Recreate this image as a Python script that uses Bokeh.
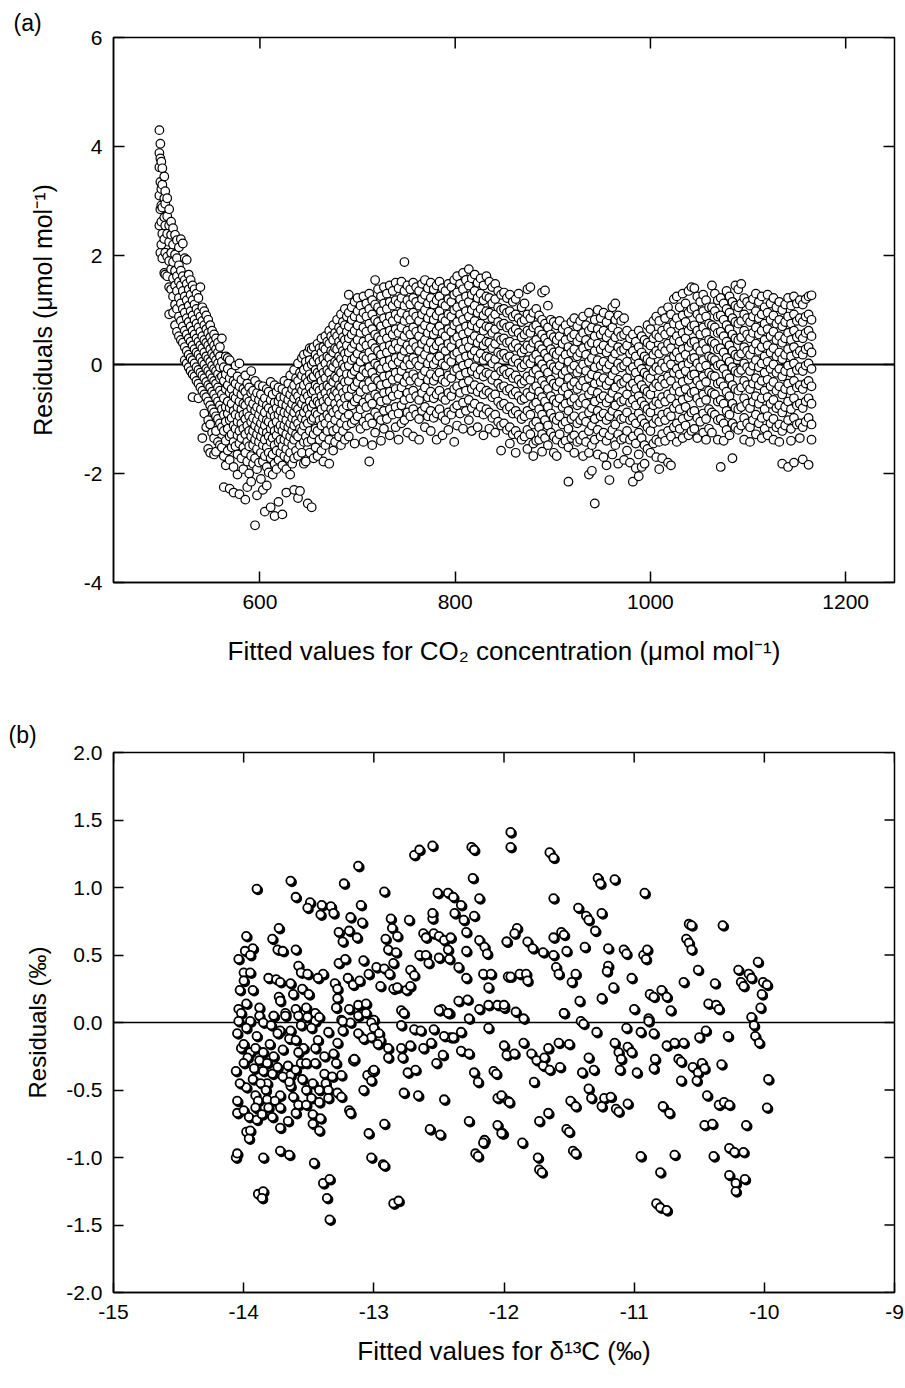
from bokeh.plotting import figure
from bokeh.layouts import column
from bokeh.models import FixedTicker, Span, ColumnDataSource, PrintfTickFormatter
from bokeh.transform import dodge
from bokeh.embed import file_html
from bokeh.resources import INLINE

# ---------------- Panel (a): residuals vs fitted CO2 ----------------
# each entry: "fitted x : residual values read at that x"
A_DECAY = [
    "497:4.30,3.88,3.62,3.10,2.55", "498:4.05,3.78,3.35,2.85,2.05",
    "499:3.72,3.22,2.92,2.62,2.20", "500:3.60,3.30,2.88,2.40,1.95",
    "502:3.45,3.05,2.70,2.30,1.68", "503:3.18,2.95,2.55,2.05,1.65",
    "505:3.05,2.72,2.40,1.98,1.62", "507:2.85,2.55,2.25,1.90,1.42,0.92",
    "509:2.62,2.38,2.05,1.75,1.38", "511:2.50,2.20,1.88,1.58,1.25,0.95",
    "513:2.38,2.02,1.72,1.45,1.10,0.72", "515:2.28,1.95,1.62,1.35,1.02,0.60",
    "517:2.15,1.82,1.52,1.22,0.88,0.52", "519:2.30,1.72,1.45,1.12,0.80,0.45",
    "521:2.22,1.62,1.35,1.02,0.70,0.40", "523:1.95,1.55,1.25,0.95,0.62,0.32,0.08",
    "525:1.92,1.48,1.18,0.85,0.55,0.25,0.02", "527:1.65,1.38,1.08,0.78,0.48,0.18,-0.05",
    "529:1.55,1.28,0.98,0.70,0.42,0.12,-0.12", "531:1.45,1.18,0.90,0.62,0.35,0.08,-0.18,-0.60",
    "533:1.38,1.10,0.82,0.55,0.28,0.02,-0.22", "535:1.30,1.02,0.75,0.48,0.22,-0.05,-0.30",
    "537:1.22,0.95,0.68,0.42,0.18,-0.10,-0.35,-0.62", "539:1.42,0.88,0.60,0.35,0.12,-0.15,-0.42",
    "541:1.05,0.80,0.52,0.30,0.05,-0.20,-0.48,-1.35", "543:0.98,0.72,0.45,0.22,0.00,-0.25,-0.55,-0.90",
    "545:0.90,0.65,0.40,0.15,-0.08,-0.32,-0.60,-1.15", "547:0.82,0.58,0.35,0.10,-0.12,-0.38,-0.68,-1.02,-1.55",
    "549:0.72,0.50,0.28,0.05,-0.18,-0.42,-0.75,-1.10,-1.62", "551:0.62,0.42,0.20,-0.02,-0.25,-0.50,-0.82,-1.25",
    "553:0.55,0.35,0.15,-0.08,-0.30,-0.55,-0.88,-1.35,-1.65", "555:0.48,0.28,0.08,-0.12,-0.35,-0.62,-0.95,-1.22,-1.60",
    "557:0.40,0.22,0.02,-0.18,-0.42,-0.68,-1.00,-1.42", "559:0.32,0.15,-0.05,-0.25,-0.48,-0.75,-1.08,-1.48",
]
A_TROUGH = [
    "561:0.48,0.05,-0.22,-0.55,-0.82,-1.15,-1.52", "563:-0.05,-0.30,-0.62,-0.92,-1.22,-1.68,-2.25",
    "565:0.15,-0.18,-0.45,-0.78,-1.05,-1.40,-1.85", "567:0.12,-0.08,-0.38,-0.68,-0.90,-1.18,-1.58",
    "569:0.08,-0.25,-0.52,-0.80,-1.02,-1.32,-1.75,-2.28", "571:-0.15,-0.45,-0.72,-0.98,-1.28,-1.52",
    "573:-0.30,-0.58,-0.85,-1.12,-1.42,-1.88,-2.35", "575:-0.02,-0.35,-0.62,-0.92,-1.18,-1.50",
    "577:-0.22,-0.50,-0.78,-1.05,-1.30,-1.65,-2.02", "579:0.02,-0.40,-0.68,-0.95,-1.22,-1.45,-2.38",
    "581:-0.28,-0.55,-0.82,-1.08,-1.35,-1.72", "583:-0.45,-0.72,-0.92,-1.18,-1.52,-1.92",
    "585:-0.20,-0.50,-0.75,-1.00,-1.28,-1.62,-2.48", "587:-0.35,-0.62,-0.88,-1.12,-1.42,-1.78,-2.25",
    "589:-0.42,-0.68,-0.95,-1.22,-1.50,-2.00", "591:-0.12,-0.52,-0.80,-1.05,-1.32,-1.68,-2.15",
    "593:-0.48,-0.72,-0.98,-1.22,-1.48,-1.82", "595:-0.30,-0.60,-0.85,-1.12,-1.38,-1.72,-2.95",
    "597:-0.52,-0.78,-1.02,-1.28,-1.55,-1.92,-2.40", "599:-0.38,-0.65,-0.92,-1.18,-1.42,-1.80",
    "601:-0.55,-0.82,-1.08,-1.32,-1.62,-2.10", "603:-0.40,-0.70,-0.98,-1.22,-1.48,-1.78,-2.30",
    "605:-0.62,-0.88,-1.12,-1.38,-1.68,-2.70", "607:-0.45,-0.75,-1.02,-1.25,-1.52,-1.88,-2.22",
    "609:-0.50,-0.80,-1.05,-1.32,-1.62,-1.98", "611:-0.32,-0.65,-0.92,-1.18,-1.42,-1.72,-2.62",
    "613:-0.55,-0.85,-1.10,-1.35,-1.65,-2.02", "615:-0.38,-0.70,-0.95,-1.22,-1.48,-1.82,-2.78",
    "617:-0.50,-0.80,-1.05,-1.30,-1.58,-1.92", "619:-0.42,-0.68,-0.92,-1.18,-1.42,-1.75,-2.52",
    "621:-0.60,-0.85,-1.12,-1.38,-1.62", "623:-0.45,-0.72,-0.98,-1.22,-1.50,-1.85,-2.75",
    "625:-0.30,-0.60,-0.88,-1.12,-1.38,-1.68", "627:-0.50,-0.75,-1.02,-1.28,-1.55,-1.92,-2.35",
    "629:-0.35,-0.65,-0.90,-1.15,-1.42,-1.72", "631:-0.20,-0.55,-0.82,-1.08,-1.32,-1.62,-2.02",
    "633:-0.45,-0.72,-0.98,-1.22,-1.48,-1.82", "635:-0.10,-0.38,-0.62,-0.88,-1.12,-1.38,-1.72,-2.30",
    "637:-0.25,-0.52,-0.78,-1.02,-1.28,-1.58", "639:0.02,-0.30,-0.58,-0.82,-1.08,-1.32,-1.68,-2.45",
    "641:-0.15,-0.42,-0.68,-0.92,-1.18,-1.48,-2.32", "643:0.12,-0.20,-0.48,-0.72,-0.98,-1.22,-1.62",
    "645:0.18,-0.10,-0.38,-0.62,-0.88,-1.12,-1.42,-1.82", "647:0.05,-0.25,-0.52,-0.78,-1.02,-1.32,-1.78",
    "649:0.22,-0.05,-0.32,-0.58,-0.82,-1.08,-1.42,-2.55", "651:0.30,0.08,-0.18,-0.42,-0.68,-0.92,-1.22,-1.62",
    "653:0.28,0.00,-0.25,-0.52,-0.78,-1.02,-1.38,-2.62", "655:0.32,0.05,-0.22,-0.48,-0.72,-0.98,-1.28,-1.72",
    "657:0.18,-0.10,-0.38,-0.62,-0.88,-1.18,-1.52", "659:0.38,0.12,-0.15,-0.42,-0.68,-0.92,-1.22,-1.68",
    "661:0.30,0.05,-0.20,-0.48,-0.72,-1.02,-1.38", "663:0.48,0.22,-0.05,-0.30,-0.58,-0.82,-1.12,-1.58",
    "665:0.32,0.10,-0.15,-0.42,-0.68,-0.98,-1.32,-1.78", "667:0.52,0.28,0.02,-0.25,-0.52,-0.78,-1.08,-1.48",
    "669:0.42,0.15,-0.10,-0.38,-0.62,-0.92,-1.22", "671:0.62,0.38,0.12,-0.15,-0.42,-0.68,-0.98,-1.38,-1.82",
    "673:0.52,0.25,0.00,-0.28,-0.52,-0.82,-1.12", "675:0.72,0.45,0.22,-0.05,-0.32,-0.58,-0.88,-1.22,-1.58",
    "677:0.58,0.30,0.05,-0.22,-0.48,-0.72,-1.02,-1.42", "679:0.82,0.52,0.28,0.02,-0.25,-0.52,-0.82,-1.18",
    "681:0.68,0.42,0.15,-0.12,-0.38,-0.62,-0.92,-1.32", "683:0.92,0.62,0.35,0.10,-0.15,-0.42,-0.72,-1.08,-1.48",
    "685:0.78,0.50,0.25,0.00,-0.28,-0.52,-0.82,-1.22", "687:1.02,0.72,0.45,0.20,-0.05,-0.32,-0.62,-0.98,-1.38",
    "689:0.88,0.60,0.35,0.10,-0.18,-0.45,-0.75,-1.12",
]
A_PLATEAU = [
    "691:1.28,0.95,0.70,0.48,0.22,-0.02,-0.30,-0.58,-0.92,-1.32", "694:1.05,0.82,0.55,0.30,0.08,-0.18,-0.45,-0.75,-1.08",
    "697:1.15,0.88,0.62,0.38,0.12,-0.12,-0.40,-0.68,-1.02,-1.45", "700:1.22,0.98,0.72,0.45,0.20,-0.05,-0.32,-0.62,-0.95",
    "703:1.08,0.85,0.58,0.32,0.05,-0.22,-0.50,-0.82,-1.18", "706:1.25,0.95,0.68,0.42,0.15,-0.10,-0.38,-0.70,-1.05,-1.42",
    "709:1.12,0.88,0.60,0.35,0.10,-0.15,-0.45,-0.78,-1.12", "712:1.30,1.02,0.75,0.48,0.22,-0.05,-0.32,-0.62,-0.98,-1.78",
    "715:1.18,0.92,0.65,0.38,0.12,-0.15,-0.42,-0.72,-1.08,-1.48", "718:1.55,1.10,0.82,0.55,0.30,0.02,-0.25,-0.55,-0.88,-1.25",
    "721:1.38,1.05,0.78,0.50,0.25,-0.02,-0.30,-0.60,-0.95", "724:1.25,0.98,0.70,0.45,0.18,-0.08,-0.38,-0.68,-1.02,-1.40",
    "727:1.42,1.12,0.85,0.58,0.32,0.05,-0.22,-0.52,-0.85,-1.18", "730:1.30,1.02,0.75,0.48,0.22,-0.05,-0.35,-0.65,-1.00",
    "733:1.45,1.15,0.88,0.62,0.35,0.08,-0.20,-0.50,-0.82,-1.30", "736:1.35,1.08,0.80,0.55,0.28,0.00,-0.28,-0.58,-0.92",
    "739:1.50,1.18,0.92,0.65,0.38,0.12,-0.15,-0.45,-0.78,-1.15", "742:1.40,1.12,0.85,0.58,0.30,0.05,-0.25,-0.55,-0.90,-1.38",
    "745:1.52,1.22,0.95,0.68,0.42,0.15,-0.12,-0.42,-0.75,-1.08", "748:1.88,1.35,1.08,0.80,0.52,0.25,-0.02,-0.32,-0.65,-1.02",
    "751:1.45,1.18,0.90,0.62,0.35,0.08,-0.22,-0.52,-0.88,-1.25", "754:1.38,1.10,0.82,0.55,0.28,0.00,-0.30,-0.62,-0.95",
    "757:1.50,1.22,0.95,0.68,0.40,0.12,-0.18,-0.48,-0.82,-1.32", "760:1.42,1.15,0.88,0.60,0.32,0.05,-0.25,-0.58,-0.92",
    "763:1.35,1.08,0.80,0.52,0.25,-0.02,-0.32,-0.65,-1.00,-1.38", "766:1.48,1.20,0.92,0.65,0.38,0.10,-0.20,-0.52,-0.85",
    "769:1.55,1.28,1.00,0.72,0.45,0.18,-0.12,-0.42,-0.78,-1.15", "772:1.40,1.12,0.85,0.58,0.30,0.02,-0.28,-0.60,-0.95",
    "775:1.50,1.22,0.95,0.68,0.40,0.12,-0.18,-0.50,-0.85,-1.22", "778:1.38,1.10,0.82,0.55,0.28,0.00,-0.30,-0.62,-0.98",
    "781:1.45,1.18,0.90,0.62,0.35,0.08,-0.22,-0.55,-0.90,-1.38", "784:1.52,1.25,0.98,0.70,0.42,0.15,-0.15,-0.48,-0.82",
    "787:1.40,1.12,0.85,0.58,0.30,0.02,-0.28,-0.60,-0.95,-1.30", "790:1.35,1.08,0.80,0.52,0.25,-0.02,-0.32,-0.65,-1.02",
    "793:1.48,1.20,0.92,0.65,0.38,0.10,-0.20,-0.52,-0.88,-1.20", "796:1.42,1.15,0.88,0.60,0.32,0.05,-0.25,-0.58,-0.92",
    "799:1.55,1.28,1.00,0.72,0.45,0.18,-0.12,-0.45,-0.80,-1.42", "802:1.62,1.32,1.05,0.78,0.50,0.22,-0.08,-0.40,-0.75,-1.12",
    "805:1.48,1.20,0.92,0.65,0.38,0.10,-0.20,-0.52,-0.90", "808:1.68,1.38,1.10,0.82,0.55,0.28,-0.02,-0.35,-0.70,-1.18",
    "811:1.55,1.25,0.98,0.70,0.42,0.15,-0.15,-0.48,-0.85", "814:1.75,1.45,1.15,0.88,0.60,0.32,0.02,-0.30,-0.65,-1.02",
    "817:1.58,1.28,1.00,0.72,0.45,0.18,-0.12,-0.45,-0.80,-1.22", "820:1.65,1.35,1.08,0.80,0.52,0.25,-0.05,-0.38,-0.72",
    "823:1.50,1.22,0.95,0.68,0.40,0.12,-0.18,-0.50,-0.88,-1.15", "826:1.58,1.30,1.02,0.75,0.48,0.20,-0.10,-0.42,-0.78",
    "829:1.45,1.18,0.90,0.62,0.35,0.08,-0.22,-0.55,-0.92,-1.30", "832:1.62,1.25,0.98,0.70,0.42,0.15,-0.15,-0.48,-0.82",
    "835:1.52,1.22,0.95,0.68,0.40,0.12,-0.18,-0.52,-0.88,-1.18", "838:1.42,1.12,0.85,0.58,0.30,0.02,-0.28,-0.60,-0.98",
    "841:1.48,1.20,0.92,0.65,0.38,0.10,-0.20,-0.55,-0.92,-1.25", "844:1.35,1.05,0.78,0.50,0.22,-0.05,-0.35,-0.68,-1.05",
    "847:1.28,1.00,0.72,0.45,0.18,-0.12,-0.42,-0.75,-1.12,-1.58", "850:1.32,1.02,0.75,0.48,0.20,-0.10,-0.40,-0.72,-1.08",
    "853:1.22,0.95,0.68,0.40,0.12,-0.18,-0.48,-0.82,-1.20", "856:1.28,0.98,0.70,0.42,0.15,-0.15,-0.45,-0.78,-1.15,-1.45",
    "859:1.15,0.88,0.60,0.32,0.05,-0.25,-0.55,-0.90,-1.28", "862:1.20,0.92,0.65,0.38,0.10,-0.20,-0.50,-0.85,-1.22,-1.62",
    "865:1.30,0.85,0.58,0.30,0.02,-0.28,-0.58,-0.92,-1.30", "868:1.05,0.78,0.50,0.22,-0.05,-0.35,-0.65,-1.00,-1.38",
    "871:1.12,0.82,0.55,0.28,0.00,-0.30,-0.62,-0.95,-1.32", "874:1.38,0.92,0.62,0.35,0.08,-0.22,-0.52,-0.85,-1.20,-1.55",
    "877:1.42,0.85,0.58,0.30,0.02,-0.28,-0.58,-0.92,-1.28", "880:0.95,0.68,0.40,0.12,-0.15,-0.45,-0.75,-1.10,-1.45,-1.68",
    "883:1.02,0.72,0.45,0.18,-0.10,-0.40,-0.70,-1.05,-1.40", "886:0.90,0.62,0.35,0.08,-0.20,-0.50,-0.82,-1.15,-1.38",
    "889:1.32,0.82,0.55,0.28,0.00,-0.30,-0.60,-0.92,-1.28,-1.60", "892:1.36,0.75,0.48,0.20,-0.08,-0.38,-0.68,-1.02,-1.35",
    "895:1.08,0.68,0.40,0.12,-0.15,-0.45,-0.78,-1.12,-1.48", "898:0.82,0.55,0.28,0.00,-0.28,-0.58,-0.90,-1.25",
    "901:0.78,0.50,0.22,-0.05,-0.35,-0.65,-0.98,-1.32,-1.62", "904:0.72,0.45,0.18,-0.10,-0.40,-0.70,-1.02,-1.38,-1.68",
    "907:0.80,0.52,0.25,-0.02,-0.32,-0.62,-0.95,-1.28", "910:0.65,0.38,0.10,-0.18,-0.48,-0.78,-1.10,-1.45",
    "913:0.72,0.45,0.18,-0.12,-0.42,-0.72,-1.05,-1.40", "916:0.60,0.32,0.05,-0.25,-0.55,-0.85,-1.18,-1.52,-2.15",
    "919:0.78,0.50,0.22,-0.08,-0.38,-0.68,-1.00,-1.35", "922:0.85,0.55,0.28,-0.02,-0.32,-0.62,-0.95,-1.30,-1.62",
    "925:0.70,0.42,0.15,-0.15,-0.45,-0.75,-1.08,-1.42", "928:0.80,0.50,0.22,-0.08,-0.38,-0.70,-1.02,-1.38",
    "931:0.88,0.58,0.30,0.00,-0.30,-0.62,-0.95,-1.30,-1.68", "934:0.72,0.45,0.18,-0.12,-0.42,-0.72,-1.05,-1.42",
    "937:0.95,0.62,0.35,0.05,-0.25,-0.55,-0.88,-1.22,-1.62,-2.02", "940:0.68,0.40,0.12,-0.18,-0.48,-0.80,-1.12,-1.48,-1.95",
    "943:0.82,0.52,0.25,-0.05,-0.35,-0.68,-1.00,-1.38,-2.55", "946:1.00,0.65,0.38,0.08,-0.22,-0.52,-0.85,-1.20,-1.65",
    "949:0.85,0.55,0.28,-0.02,-0.32,-0.62,-0.95,-1.32", "952:0.95,0.62,0.35,0.05,-0.25,-0.58,-0.90,-1.25,-1.70",
    "955:0.78,0.50,0.22,-0.08,-0.38,-0.70,-1.02,-1.40,-1.85", "958:0.90,0.58,0.30,0.00,-0.30,-0.62,-0.95,-1.30,-2.12",
    "961:1.05,0.68,0.40,0.10,-0.20,-0.52,-0.85,-1.20,-1.65", "964:1.12,0.82,0.50,0.20,-0.10,-0.42,-0.75,-1.10,-1.48",
    "967:0.90,0.60,0.32,0.02,-0.28,-0.60,-0.92,-1.28,-1.82", "970:0.80,0.52,0.25,-0.05,-0.35,-0.68,-1.00,-1.38",
    "973:0.85,0.55,0.28,-0.02,-0.32,-0.65,-0.98,-1.35,-1.75", "976:0.62,0.35,0.05,-0.25,-0.55,-0.88,-1.22,-1.58",
    "979:0.48,0.20,-0.10,-0.40,-0.70,-1.02,-1.38,-1.80", "982:0.55,0.25,-0.05,-0.35,-0.65,-0.98,-1.32,-2.15",
    "985:0.42,0.15,-0.15,-0.45,-0.75,-1.08,-1.45,-1.90", "988:0.62,0.32,0.02,-0.28,-0.58,-0.90,-1.25,-1.65,-2.05",
    "991:0.52,0.22,-0.08,-0.38,-0.68,-1.00,-1.35,-1.88", "994:0.45,0.15,-0.15,-0.45,-0.75,-1.08,-1.48,-1.82",
    "997:0.72,0.40,0.10,-0.20,-0.50,-0.82,-1.15,-1.55", "1000:0.65,0.35,0.05,-0.25,-0.55,-0.88,-1.22,-1.62",
    "1003:0.80,0.48,0.18,-0.12,-0.42,-0.75,-1.08,-1.45", "1006:0.88,0.55,0.25,-0.05,-0.35,-0.68,-1.00,-1.38,-1.70",
    "1009:0.80,0.50,0.20,-0.10,-0.40,-0.72,-1.05,-1.42,-1.92", "1012:0.98,0.62,0.32,0.02,-0.28,-0.60,-0.92,-1.28,-1.72",
    "1015:0.85,0.55,0.25,-0.05,-0.35,-0.68,-1.02,-1.40", "1018:1.05,0.68,0.38,0.08,-0.22,-0.55,-0.88,-1.22,-1.80",
    "1021:0.92,0.60,0.30,0.00,-0.30,-0.62,-0.95,-1.32,-1.85", "1024:1.20,0.75,0.45,0.15,-0.15,-0.48,-0.80,-1.15",
    "1027:1.25,0.85,0.52,0.22,-0.08,-0.40,-0.72,-1.08,-1.42", "1030:1.05,0.72,0.42,0.12,-0.18,-0.50,-0.82,-1.18",
    "1033:1.30,0.90,0.58,0.28,-0.02,-0.32,-0.65,-1.00,-1.35", "1036:1.12,0.78,0.48,0.18,-0.12,-0.45,-0.78,-1.12",
    "1039:1.35,0.95,0.62,0.32,0.02,-0.28,-0.60,-0.95,-1.30", "1042:1.42,1.02,0.70,0.40,0.10,-0.20,-0.52,-0.88,-1.22",
    "1045:1.40,1.05,0.72,0.42,0.12,-0.18,-0.50,-0.85,-1.18", "1048:1.25,0.92,0.62,0.32,0.02,-0.30,-0.62,-0.98,-1.35",
    "1051:1.15,0.85,0.55,0.25,-0.05,-0.38,-0.70,-1.05", "1054:1.28,0.98,0.68,0.38,0.08,-0.22,-0.55,-0.90,-1.25",
    "1057:1.18,0.88,0.58,0.28,-0.02,-0.32,-0.65,-1.00,-1.38", "1060:1.05,0.75,0.45,0.15,-0.15,-0.48,-0.82,-1.18",
    "1063:1.45,1.05,0.72,0.42,0.12,-0.20,-0.52,-0.88,-1.25", "1066:1.30,0.98,0.68,0.38,0.08,-0.22,-0.55,-0.92",
    "1069:1.18,0.88,0.58,0.28,-0.02,-0.35,-0.68,-1.02,-1.38", "1072:1.22,0.90,0.60,0.30,0.00,-0.32,-0.65,-1.00,-1.88",
    "1075:1.12,0.82,0.52,0.22,-0.08,-0.40,-0.72,-1.08,-1.40", "1078:1.35,1.02,0.72,0.42,0.12,-0.18,-0.50,-0.85,-1.20",
    "1081:1.25,0.95,0.65,0.35,0.05,-0.25,-0.58,-0.92,-1.30", "1084:1.15,0.85,0.55,0.25,-0.05,-0.38,-0.72,-1.08,-1.72",
    "1087:1.45,1.08,0.78,0.48,0.18,-0.12,-0.45,-0.80,-1.15", "1090:1.38,1.05,0.75,0.45,0.15,-0.15,-0.48,-0.82,-1.20",
    "1093:1.48,1.12,0.80,0.50,0.20,-0.10,-0.42,-0.78,-1.12", "1096:1.22,0.92,0.62,0.32,0.02,-0.30,-0.62,-0.98,-1.38",
    "1099:1.15,0.85,0.55,0.25,-0.05,-0.38,-0.72,-1.08", "1102:1.08,0.78,0.48,0.18,-0.12,-0.45,-0.80,-1.15,-1.42",
    "1105:1.20,0.88,0.58,0.28,-0.02,-0.35,-0.68,-1.02", "1108:1.30,0.98,0.68,0.38,0.08,-0.25,-0.58,-0.92,-1.28",
    "1111:1.15,0.85,0.55,0.25,-0.05,-0.38,-0.72,-1.08", "1114:1.25,0.92,0.62,0.32,0.02,-0.30,-0.62,-0.98,-1.35",
    "1117:1.05,0.75,0.45,0.15,-0.15,-0.48,-0.82,-1.18", "1120:1.28,0.95,0.65,0.35,0.05,-0.28,-0.60,-0.95,-1.30",
    "1123:1.12,0.82,0.52,0.22,-0.08,-0.40,-0.72,-1.08", "1126:1.22,0.90,0.60,0.30,0.00,-0.32,-0.65,-1.00,-1.38",
    "1129:1.05,0.75,0.45,0.15,-0.15,-0.48,-0.80,-1.15", "1132:1.15,0.82,0.52,0.22,-0.08,-0.40,-0.75,-1.10,-1.42",
    "1135:1.00,0.70,0.40,0.10,-0.22,-0.55,-0.88,-1.22,-1.82", "1138:1.10,0.78,0.48,0.18,-0.12,-0.45,-0.78,-1.12",
    "1141:1.22,0.88,0.58,0.28,-0.02,-0.35,-0.68,-1.02,-1.88", "1144:1.08,0.75,0.45,0.15,-0.15,-0.48,-0.82,-1.18,-1.40",
    "1147:1.25,0.92,0.62,0.32,0.02,-0.30,-0.62,-0.98,-1.80", "1150:1.12,0.80,0.50,0.20,-0.10,-0.42,-0.75,-1.10",
    "1153:1.18,0.85,0.55,0.25,-0.05,-0.38,-0.72,-1.08,-1.35", "1156:1.10,0.78,0.48,0.18,-0.12,-0.45,-0.80,-1.15,-1.74",
    "1159:1.20,0.88,0.58,0.28,-0.02,-0.35,-0.68,-1.05", "1162:1.25,0.92,0.62,0.32,0.02,-0.30,-0.62,-0.98,-1.84",
    "1165:1.27,0.82,0.52,0.22,-0.08,-0.40,-0.72,-1.10,-1.38",
]
A_XTICKS = [600, 800, 1000, 1200]
A_YTICKS = [-4, -2, 0, 2, 4, 6]

# ---------------- Panel (b): residuals vs fitted d13C ----------------
B_PTS = [
    (-13.90, 0.99), (-13.64, 1.05), (-13.60, 0.93), (-13.49, 0.89), (-13.51, 0.85), (-13.40, 0.87), (-13.41, 0.80),
    (-13.33, 0.86), (-13.31, 0.81), (-13.23, 1.03), (-13.12, 1.16), (-13.10, 0.87), (-13.18, 0.78), (-13.09, 0.74),
    (-13.73, 0.70), (-13.98, 0.64), (-13.78, 0.62), (-13.93, 0.55), (-13.99, 0.53), (-13.74, 0.54), (-13.70, 0.53),
    (-13.60, 0.54), (-14.04, 0.47), (-13.95, 0.50), (-14.00, 0.37), (-13.95, 0.37), (-14.00, 0.31), (-14.03, 0.24),
    (-13.93, 0.24), (-13.81, 0.33), (-13.75, 0.32), (-13.72, 0.30), (-13.64, 0.29), (-13.58, 0.42), (-13.56, 0.37),
    (-13.51, 0.36), (-13.62, 0.21), (-13.55, 0.25), (-13.50, 0.21), (-13.73, 0.19), (-13.72, 0.16), (-13.39, 0.36),
    (-13.43, 0.33), (-13.30, 0.29), (-13.28, 0.25), (-13.27, 0.67), (-13.24, 0.60), (-13.19, 0.68), (-13.13, 0.63),
    (-13.27, 0.44), (-13.22, 0.47), (-13.08, 0.46), (-13.20, 0.33), (-13.16, 0.28), (-13.11, 0.31), (-13.28, 0.18),
    (-13.29, 0.11), (-13.19, 0.10), (-13.12, 0.13), (-13.06, 0.14), (-13.04, 0.36), (-12.98, 0.41), (-12.92, 0.40),
    (-12.92, 0.97), (-12.87, 0.77), (-12.86, 0.70), (-12.82, 0.64), (-12.91, 0.62), (-12.89, 0.54), (-12.83, 0.52),
    (-12.85, 0.44), (-12.88, 0.36), (-12.85, 0.25), (-12.82, 0.26), (-12.75, 0.24), (-12.72, 0.27), (-12.95, 0.27),
    (-12.73, 0.76), (-12.69, 1.24), (-12.65, 1.28), (-12.55, 1.31), (-12.72, 0.39), (-12.69, 0.35), (-12.65, 0.50),
    (-12.60, 0.50), (-12.58, 0.44), (-12.62, 0.66), (-12.60, 0.63), (-12.55, 0.77), (-12.55, 0.81), (-12.54, 0.66),
    (-12.50, 0.64), (-12.46, 0.61), (-12.51, 0.96), (-12.43, 0.96), (-12.39, 0.93), (-12.33, 0.87), (-12.38, 0.81),
    (-12.31, 0.76), (-12.23, 0.79), (-12.19, 0.92), (-12.50, 0.48), (-12.42, 0.47), (-12.43, 0.54), (-12.41, 0.63),
    (-12.35, 0.41), (-12.29, 0.53), (-12.29, 0.67), (-12.25, 1.30), (-12.23, 1.28), (-12.24, 1.07), (-12.29, 0.33),
    (-12.35, 0.16), (-12.28, 0.17), (-12.48, 0.10), (-12.42, 0.07), (-12.19, 0.61), (-12.15, 0.56), (-12.13, 0.51),
    (-12.16, 0.36), (-12.10, 0.36), (-12.12, 0.26), (-12.19, 0.10), (-12.12, 0.13), (-12.05, 0.13), (-12.00, 0.11),
    (-11.95, 1.41), (-11.95, 1.30), (-11.98, 0.60), (-11.97, 0.34),
    (-11.65, 1.26), (-11.62, 1.22), (-11.28, 1.07), (-11.26, 1.03), (-11.15, 1.06), (-10.92, 0.96), (-11.62, 0.92),
    (-11.43, 0.85), (-11.37, 0.79), (-11.35, 0.76), (-11.30, 0.68), (-11.25, 0.81), (-11.90, 0.70), (-11.92, 0.66),
    (-11.98, 0.60), (-11.82, 0.60), (-11.78, 0.55), (-11.70, 0.52), (-11.62, 0.63), (-11.56, 0.67), (-11.54, 0.65),
    (-11.62, 0.50), (-11.52, 0.53), (-11.38, 0.56), (-11.20, 0.55), (-11.08, 0.54), (-11.06, 0.51), (-10.93, 0.50),
    (-10.90, 0.54), (-10.91, 0.47), (-10.58, 0.73), (-10.56, 0.72), (-10.60, 0.62), (-10.58, 0.59), (-10.56, 0.54),
    (-10.32, 0.72), (-11.95, 0.34), (-11.88, 0.36), (-11.83, 0.36), (-11.82, 0.31), (-11.60, 0.41), (-11.58, 0.36),
    (-11.45, 0.36), (-11.48, 0.30), (-11.20, 0.42), (-11.21, 0.38), (-11.16, 0.26), (-11.02, 0.33), (-10.62, 0.30),
    (-10.51, 0.39), (-10.38, 0.29), (-10.20, 0.39), (-10.12, 0.36), (-10.10, 0.33), (-10.18, 0.30), (-10.16, 0.27),
    (-10.05, 0.45), (-10.01, 0.30), (-9.98, 0.28), (-10.02, 0.21), (-10.03, 0.11), (-12.00, 0.13), (-11.91, 0.08),
    (-11.85, 0.03), (-11.54, 0.07), (-11.42, 0.16), (-11.25, 0.18), (-11.41, 0.01), (-11.00, 0.10), (-10.88, 0.21),
    (-10.85, 0.19), (-10.79, 0.24), (-10.75, 0.19), (-10.72, 0.09), (-10.89, 0.03), (-10.43, 0.14), (-10.37, 0.13),
    (-10.35, 0.10), (-10.10, 0.04),
    (-14.04, 0.10), (-13.98, 0.14), (-13.88, 0.11), (-13.77, 0.05), (-13.68, 0.07), (-13.60, 0.10), (-13.52, 0.11),
    (-13.45, 0.07), (-13.25, 0.02), (-13.12, 0.05), (-13.06, 0.07), (-13.00, 0.02), (-12.79, 0.09),
    (-14.02, 0.07), (-13.95, 0.01), (-13.88, 0.05), (-13.85, 0.00), (-13.77, 0.05), (-13.68, 0.05), (-13.58, 0.05),
    (-13.51, 0.04), (-13.45, 0.01), (-13.42, 0.04), (-13.72, -0.06), (-13.64, -0.06), (-13.74, -0.08), (-13.65, -0.12),
    (-14.04, 0.01), (-13.98, -0.04), (-13.79, -0.02), (-13.56, -0.02), (-13.48, -0.04),
    (-14.05, -0.08), (-14.02, -0.19), (-14.00, -0.16), (-13.95, -0.22), (-13.97, -0.26), (-13.91, -0.19), (-13.88, -0.28),
    (-13.85, -0.22), (-13.82, -0.30), (-13.80, -0.16), (-14.06, -0.36), (-13.92, -0.34), (-13.85, -0.36), (-13.78, -0.38),
    (-13.74, -0.33), (-13.66, -0.32), (-13.64, -0.39), (-13.82, -0.45), (-13.83, -0.50), (-13.91, -0.54), (-14.05, -0.58),
    (-14.05, -0.67), (-14.00, -0.65), (-13.96, -0.70), (-13.89, -0.58), (-13.82, -0.57), (-13.81, -0.63), (-13.91, -0.63),
    (-13.98, -0.81), (-13.96, -0.86), (-13.95, -0.80), (-14.06, -1.00), (-14.05, -0.97), (-13.85, -1.00), (-13.89, -1.27),
    (-13.85, -1.25), (-13.86, -1.30), (-13.72, -0.78), (-13.66, -0.73), (-13.60, -0.67), (-13.58, -0.61), (-13.52, -0.61),
    (-13.52, -0.50), (-13.64, -0.47), (-13.65, -0.44), (-13.72, -0.54), (-13.72, -0.63), (-13.72, -0.95), (-13.65, -0.98),
    (-13.47, -0.45), (-13.38, -0.38), (-13.37, -0.45), (-13.42, -0.50), (-13.35, -0.50), (-13.48, -0.56), (-13.42, -0.59),
    (-13.35, -0.56), (-13.28, -0.52), (-13.47, -0.68), (-13.47, -0.75), (-13.41, -0.71), (-13.42, -0.80), (-13.46, -1.04),
    (-13.39, -1.19), (-13.34, -1.16), (-13.36, -1.30), (-13.34, -1.46), (-13.25, -0.39), (-13.19, -0.65), (-13.18, -0.67),
    (-13.16, -0.28), (-13.15, -0.27), (-13.31, -0.23), (-13.29, -0.30), (-13.28, -0.15), (-13.08, -0.50), (-13.05, -0.39),
    (-13.02, -0.43), (-13.01, -0.36), (-13.00, -0.35), (-13.04, -0.82), (-13.02, -1.00), (-12.93, -1.05), (-12.92, -1.06),
    (-12.92, -0.75), (-12.85, -1.34), (-12.81, -1.32), (-12.77, -0.52), (-12.66, -0.54), (-12.74, -0.37), (-12.68, -0.35),
    (-12.79, -0.19), (-12.78, -0.26), (-12.72, -0.17), (-12.62, -0.19), (-12.56, -0.15), (-12.52, -0.30), (-12.47, -0.24),
    (-12.41, -0.11), (-12.33, -0.21), (-12.27, -0.23), (-12.46, -0.57), (-12.57, -0.79), (-12.49, -0.83), (-12.23, -0.37),
    (-12.20, -0.44), (-12.27, -0.73), (-12.22, -0.97), (-12.20, -0.99), (-12.15, -0.87), (-12.16, -0.89), (-12.08, -0.36),
    (-12.06, -0.38), (-12.05, -0.56), (-12.02, -0.54), (-11.97, -0.58), (-12.05, -0.76), (-12.01, -0.82), (-12.00, -0.17),
    (-11.98, -0.24), (-12.27, 0.03), (-12.12, -0.04), (-12.33, -0.07), (-12.69, -0.05), (-12.64, -0.06), (-12.54, -0.05),
    (-12.46, -0.10), (-12.39, -0.11), (-12.79, -0.02), (-12.77, 0.07), (-12.43, 0.07), (-12.50, 0.09), (-12.95, -0.13),
    (-12.89, -0.19), (-12.89, -0.26), (-12.97, -0.16), (-13.02, -0.11), (-13.08, -0.12), (-13.12, -0.08), (-13.02, 0.00),
    (-13.00, -0.04), (-12.96, -0.08), (-13.35, -0.07), (-13.24, -0.06), (-13.18, 0.00), (-13.24, 0.01), (-13.54, -0.19),
    (-13.45, -0.19), (-13.43, -0.13), (-13.58, -0.22), (-13.56, -0.30),
    (-14.00, -0.30), (-13.93, -0.42), (-13.87, -0.45), (-13.98, -0.48), (-13.90, -0.72), (-13.86, -0.68), (-13.78, -0.70),
    (-13.76, -0.58), (-13.70, -0.40), (-13.62, -0.55), (-13.55, -0.42), (-13.60, -0.35), (-13.52, -0.30), (-13.45, -0.30),
    (-13.38, -0.25), (-13.32, -0.40), (-13.25, -0.55), (-13.60, -0.13), (-13.70, -0.20), (-13.77, -0.25), (-13.90, -0.10),
    (-14.03, -0.45),
    (-11.92, -0.23), (-11.85, -0.15), (-11.79, -0.23), (-11.75, -0.28), (-11.70, -0.32), (-11.65, -0.35), (-11.66, -0.19),
    (-11.69, -0.26), (-11.58, -0.15), (-11.50, -0.16), (-11.57, -0.33), (-11.77, -0.44), (-11.96, -0.59), (-12.02, -0.82),
    (-11.86, -0.89), (-11.73, -0.73), (-11.66, -0.67), (-11.74, -1.00), (-11.73, -1.09), (-11.71, -1.11), (-11.49, -0.58),
    (-11.45, -0.62), (-11.52, -0.79), (-11.50, -0.81), (-11.47, -0.95), (-11.45, -0.97), (-11.39, -0.01), (-11.29, -0.07),
    (-11.54, 0.07), (-11.40, -0.37), (-11.35, -0.26), (-11.31, -0.35), (-11.35, -0.49), (-11.33, -0.56), (-11.25, -0.62),
    (-11.23, -0.56), (-11.18, -0.55), (-11.14, -0.64), (-11.12, -0.66), (-11.05, -0.60), (-11.15, -0.15), (-11.12, -0.22),
    (-11.05, -0.18), (-11.02, -0.22), (-11.10, -0.27), (-11.11, -0.35), (-11.06, -0.04), (-10.95, -0.07), (-10.85, -0.08),
    (-10.89, 0.01), (-10.98, -0.37), (-10.85, -0.34), (-10.84, -0.27), (-10.95, -0.99), (-10.78, -0.62), (-10.73, -0.67),
    (-10.80, -1.11), (-10.69, -0.98), (-10.83, -1.34), (-10.80, -1.37), (-10.75, -1.39), (-10.75, -0.17), (-10.69, -0.15),
    (-10.62, -0.15), (-10.66, -0.27), (-10.64, -0.29), (-10.64, -0.43), (-10.55, -0.33), (-10.51, -0.37), (-10.52, -0.43),
    (-10.48, -0.30), (-10.46, -0.34), (-10.50, -0.11), (-10.45, -0.06), (-10.28, -0.10), (-10.33, -0.31), (-10.44, -0.54),
    (-10.46, -0.76), (-10.40, -0.75), (-10.39, -0.99), (-10.35, -0.61), (-10.31, -0.59), (-10.27, -0.61), (-10.27, -0.93),
    (-10.23, -0.96), (-10.16, -0.96), (-10.27, -1.13), (-10.22, -1.19), (-10.15, -1.16), (-10.22, -1.25), (-10.14, -0.76),
    (-10.08, -0.02), (-10.07, -0.10), (-10.04, -0.15), (-9.97, -0.42), (-9.98, -0.63),
]
B_XTICKS = [-15, -14, -13, -12, -11, -10, -9]
B_YTICKS = [-2.0, -1.5, -1.0, -0.5, 0.0, 0.5, 1.0, 1.5, 2.0]

FONT = "Liberation Sans"


def parse(segs):
    xs, ys = [], []
    for s in segs:
        xv, yv = s.split(":")
        for v in yv.split(","):
            xs.append(float(xv))
            ys.append(float(v))
    return xs, ys


def style(p, xticks, yticks, xfmt, yfmt, tick_len, px_per_x, px_per_y):
    p.grid.visible = False
    p.outline_line_color = "black"
    p.outline_line_width = 1.5
    p.background_fill_color = "white"
    p.border_fill_color = "white"
    for ax in p.axis:
        ax.axis_line_color = "black"
        ax.axis_line_width = 1.5
        ax.major_tick_line_color = "black"
        ax.major_tick_line_width = 1.5
        ax.major_tick_in = tick_len
        ax.major_tick_out = 0
        ax.minor_tick_line_color = None
        ax.major_label_text_font = FONT
        ax.major_label_text_font_size = "21px"
        ax.major_label_text_color = "black"
        ax.axis_label_text_font = FONT
        ax.axis_label_text_font_style = "normal"
        ax.axis_label_text_color = "black"
    xa = p.below[0]
    ya = p.left[0]
    xa.ticker = FixedTicker(ticks=xticks)
    xa.formatter = PrintfTickFormatter(format=xfmt)
    xa.major_label_standoff = 12
    ya.ticker = FixedTicker(ticks=yticks)
    ya.formatter = PrintfTickFormatter(format=yfmt)
    ya.major_label_standoff = 11
    # mirrored inward ticks on the top and right edges of the frame
    x0, x1 = p.x_range.start, p.x_range.end
    y0, y1 = p.y_range.start, p.y_range.end
    dy = tick_len / px_per_y
    dx = tick_len / px_per_x
    p.segment(x0=xticks, y0=[y1] * len(xticks), x1=xticks, y1=[y1 - dy] * len(xticks),
              line_color="black", line_width=1.5)
    p.segment(x0=[x1] * len(yticks), y0=yticks, x1=[x1 - dx] * len(yticks), y1=yticks,
              line_color="black", line_width=1.5)
    return xa, ya


def panel_title(p, text, offset, standoff):
    p.title.text = text
    p.title.align = "left"
    p.title.offset = offset
    p.title.standoff = standoff
    p.title.text_font = FONT
    p.title.text_font_size = "23px"
    p.title.text_font_style = "normal"
    p.title.text_color = "black"


# ---- figure (a)
ax_, ay_ = [], []
for seg in (A_DECAY, A_TROUGH, A_PLATEAU):
    xs, ys = parse(seg)
    ax_ += xs
    ay_ += ys

pa = figure(width=905, height=695, x_range=(450, 1250), y_range=(-4, 6),
            output_backend="svg", toolbar_location=None, title_location="above",
            min_border_left=112, min_border_right=10, min_border_top=37, min_border_bottom=113)
xa, ya = style(pa, A_XTICKS, A_YTICKS, "%d", "%d", 11, 783 / 800, 545 / 10)
xa.axis_label = "Fitted values for CO\u2082 concentration (\u03bcmol mol\u207b\u00b9)"
ya.axis_label = "Residuals (\u03bcmol mol\u207b\u00b9)"
xa.axis_label_text_font_size = "26px"
ya.axis_label_text_font_size = "25px"
xa.axis_label_standoff = 24
ya.axis_label_standoff = 24
pa.add_layout(Span(location=0, dimension="width", line_color="black", line_width=2.2, level="underlay"))
pa.scatter(ax_, ay_, size=8.6, fill_color="white", line_color="black", line_width=1.2)
panel_title(pa, "(a)", -100, 3)

# ---- figure (b)
bx = [p_[0] for p_ in B_PTS]
by = [p_[1] for p_ in B_PTS]
src_b = ColumnDataSource(dict(x=bx, y=by))

pb = figure(width=905, height=693, x_range=(-15, -9), y_range=(-2, 2),
            output_backend="svg", toolbar_location=None, title_location="above",
            min_border_left=113, min_border_right=11, min_border_top=57, min_border_bottom=96)
xb, yb = style(pb, B_XTICKS, B_YTICKS, "%d", "%.1f", 10, 781 / 6, 540 / 4)
xb.axis_label = "Fitted values for \u03b4\u00b9\u00b3C (\u2030)"
yb.axis_label = "Residuals (\u2030)"
xb.axis_label_text_font_size = "26px"
yb.axis_label_text_font_size = "24px"
xb.axis_label_standoff = 14
yb.axis_label_standoff = 12
pb.add_layout(Span(location=0, dimension="width", line_color="black", line_width=1.4, level="underlay"))
pb.scatter(x=dodge("x", 0.011), y=dodge("y", -0.011), source=src_b, size=8.4,
           fill_color="black", line_color="black", line_width=1.6)
pb.scatter("x", "y", source=src_b, size=8.4, fill_color="white", line_color="black", line_width=1.8)
panel_title(pb, "(b)", -105, 10)

layout = column(pa, pb, spacing=0)
open("out.html", "w").write(file_html(layout, INLINE))
